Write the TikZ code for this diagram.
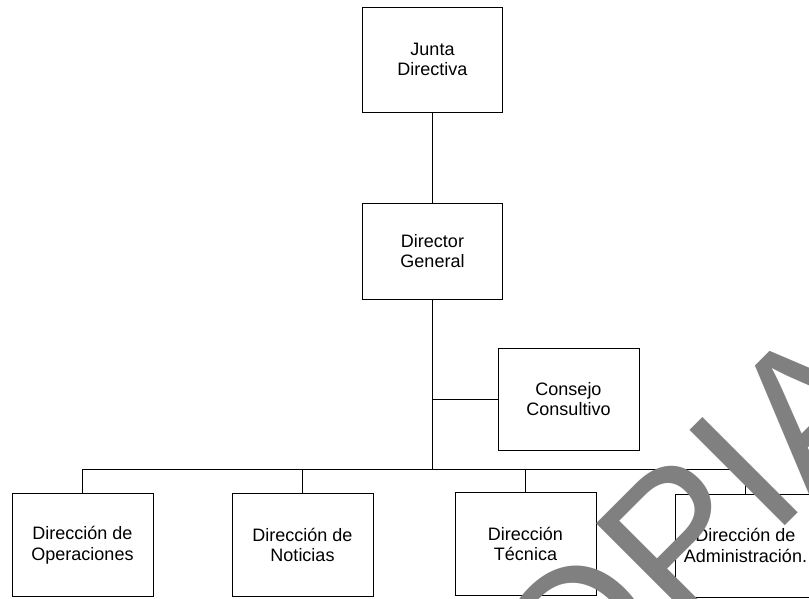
\documentclass[tikz,border=0pt]{standalone}
\usepackage{fontspec}
\setmainfont{Liberation Sans}
\definecolor{wm}{RGB}{128,128,128}
\tikzset{
  orgbox/.style={draw=black, line width=1pt, minimum width=141pt, minimum height=103pt,
    inner sep=0pt, align=center, font=\fontsize{18}{20.5}\selectfont},
  link/.style={draw=black, line width=1pt},
  watermark/.style={text=wm, inner sep=0pt, anchor=base west, rotate=45,
    font=\fontsize{196}{196}\selectfont}
}
\begin{document}
\begin{tikzpicture}[x=1pt,y=-1pt]
\clip (0,0) rectangle (809,598);
\fill[white] (0,0) rectangle (809,598);
\node[orgbox, minimum width=140pt, minimum height=105pt] (junta) at (432.5,59.5) {Junta\\Directiva};
\node[orgbox, minimum width=140pt, minimum height=96pt] (dg) at (432.5,251) {Director\\General};
\node[orgbox, minimum height=102pt] (consejo) at (568.5,399) {Consejo\\Consultivo};
\node[orgbox] (ope) at (82.5,545) {Dirección de\\Operaciones};
\node[orgbox] (not) at (302.5,545) {Dirección de\\Noticias};
\node[orgbox] (tec) at (525.5,544) {Dirección\\Técnica};
\node[orgbox] (adm) at (745.5,545.5) {Dirección de\\Administración.};
\coordinate (bus) at (432.5,469);
\draw[link] (junta.south) -- (dg.north);
\draw[link] (dg.south) -- (bus);
\draw[link] (dg.south |- consejo.west) -- (consejo.west);
\draw[link] (ope.north) -- (ope.north |- bus) -- (adm.north |- bus) -- (adm.north);
\draw[link] (not.north) -- (not.north |- bus);
\draw[link] (tec.north) -- (tec.north |- bus);
\node[watermark] (copia) at (472,839) {COPIA};
\end{tikzpicture}
\end{document}
